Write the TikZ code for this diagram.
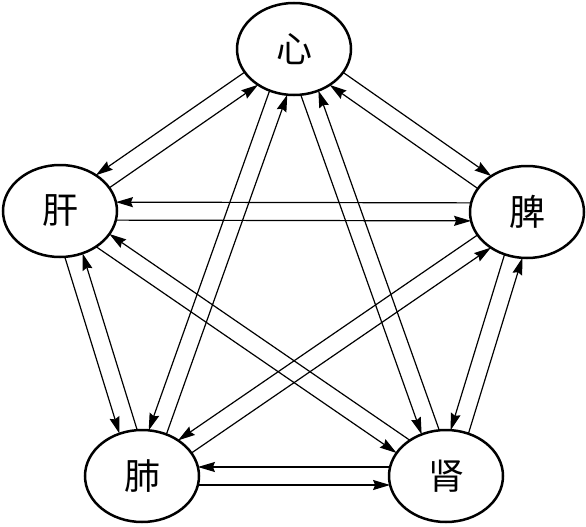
\documentclass[tikz,border=0pt]{standalone}
\usepackage{fontspec}
\newfontfamily\cjk{Noto Sans CJK SC}
\usetikzlibrary{arrows.meta,calc,intersections,shapes.geometric}

% one arrow from #1 to #2, shifted #3 to the left of the centre line
\newcommand\flowline[3]{%
  \path[name path=fl] ($(#1)!#3pt!90:(#2)$) -- ($(#2)!#3pt!-90:(#1)$);
  \path[name intersections={of=#1 and fl,by=fs}];
  \path[name intersections={of=#2 and fl,by=fe}];
  \draw[flow] (fs) -- (fe);}

\begin{document}
\begin{tikzpicture}[x=1pt,y=-1pt,
    zang/.style={draw,ellipse,line width=2.5pt,minimum width=114pt,minimum height=92pt,
      inner sep=0pt,font=\cjk\fontsize{36}{36}\selectfont},
    flow/.style={line width=1.2pt,-{Stealth[length=17pt,width=10pt,inset=2pt]}}]
        \useasboundingbox (0,0) rectangle (586,527);
        \node[zang,name path=xin] (xin) at (294,49) {心};
        \node[zang,name path=gan] (gan) at (60,211) {肝};
        \node[zang,name path=pi] (pi) at (527,212) {脾};
        \node[zang,name path=fei] (fei) at (142,476) {肺};
        \node[zang,name path=shen] (shen) at (446,476) {肾};
        \foreach \a/\b/\o in {xin/gan/-9,xin/pi/9,gan/pi/-9,gan/fei/-9,fei/shen/-9,
            pi/shen/-9,xin/fei/-9,xin/shen/-9,gan/shen/-9,pi/fei/-9}{
          \flowline{\a}{\b}{\o}
          \flowline{\b}{\a}{\o}
        }
      \end{tikzpicture}
\end{document}
